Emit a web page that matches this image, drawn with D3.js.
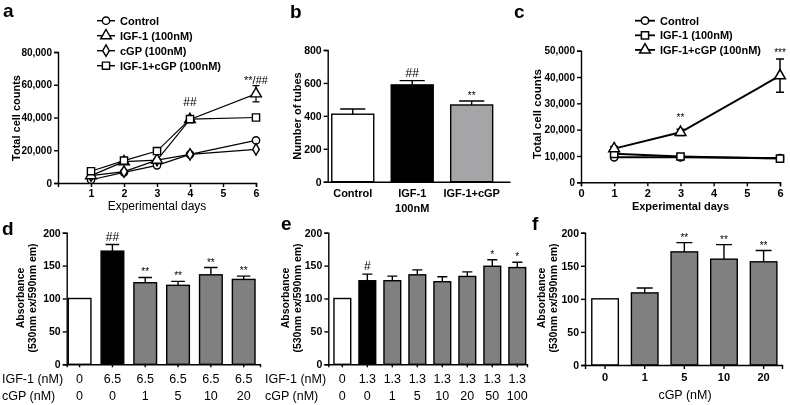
<!DOCTYPE html>
<html>
<head>
<meta charset="utf-8">
<script src="https://cdn.jsdelivr.net/npm/d3@7"></script>
<style>
  body { margin: 0; background: #fff; }
  svg { font-family: Arial, "Liberation Sans", sans-serif; will-change: transform; }
  text { fill: #000; }
</style>
</head>
<body>
<script>
// ---- panel a: cell counts over days ----
const daysA = [1, 2, 3, 4, 6];
const controlA = [2000, 6500, 10800, 17500, 26000];
const igfA = [4500, 13000, 14000, 38800, 54500];
const igfErrA = [500, 800, 900, 1000, 5000];
const cgpA = [4500, 7000, 14000, 17500, 20500];
const igfCgpA = [7200, 13700, 19500, 39000, 40000];
const yTicksA = [0, 20000, 40000, 60000, 80000];
const xTicksA = [1, 2, 3, 4, 5, 6];

// ---- panel b: tube formation ----
const catsB = ['Control', 'IGF-1', 'IGF-1+cGP'];
const valsB = [410, 588, 466];
const errsB = [32, 26, 24];
const starsB = ['', '##', '**'];
const yTicksB = [0, 200, 400, 600, 800];

// ---- panel c: cell counts over days ----
const daysC = [1, 3, 6];
const controlC = [9500, 9500, 9200];
const igfC = [10800, 9800, 9000];
const igfCgpC = [12800, 19000, 40500];
const igfCgpErrC = [800, 1200, 6300];
const yTicksC = [0, 10000, 20000, 30000, 40000, 50000];
const xTicksC = [0, 1, 2, 3, 4, 5, 6];

// ---- panel d ----
const igfD = ['0', '6.5', '6.5', '6.5', '6.5', '6.5'];
const cgpD = ['0', '0', '1', '5', '10', '20'];
const valsD = [100, 172, 124, 120, 136, 129];
const errsD = [0, 10, 8, 6, 11, 5];
const starsD = ['', '##', '**', '**', '**', '**'];

// ---- panel e ----
const igfE = ['0', '1.3', '1.3', '1.3', '1.3', '1.3', '1.3', '1.3'];
const cgpE = ['0', '0', '1', '5', '10', '20', '50', '100'];
const valsE = [100, 127, 127, 136, 125.5, 133.5, 149, 147];
const errsE = [0, 10, 7, 7.5, 7.5, 7, 10, 8];
const starsE = ['', '#', '', '', '', '', '*', '*'];

// ---- panel f ----
const cgpF = ['0', '1', '5', '10', '20'];
const valsF = [100, 109, 171, 160, 156];
const errsF = [0, 7.5, 14, 22, 17];
const starsF = ['', '', '**', '**', '**'];

const absTicks = [0, 50, 100, 150, 200];
const GRAY = '#808080';

const svg = d3.select('body').append('svg')
    .attr('width', 790)
    .attr('height', 405);

function styleAxis(g, size, weight) {
    g.selectAll('path, line').attr('stroke', '#000').attr('stroke-width', 1.4);
    g.selectAll('text').attr('font-size', size).attr('font-weight', weight).attr('fill', '#000')
        .attr('font-family', 'Arial, "Liberation Sans", sans-serif');
}

function panelLetter(letter, x, y) {
    svg.append('text').attr('x', x).attr('y', y)
        .attr('font-size', 19).attr('font-weight', 'bold').text(letter);
}

function yLabel(lines, x, cy, size) {
    const t = svg.append('text')
        .attr('transform', `translate(${x},${cy}) rotate(-90)`)
        .attr('text-anchor', 'middle')
        .attr('font-size', size).attr('font-weight', 'bold');
    lines.forEach((l, i) => {
        t.append('tspan').attr('x', 0).attr('dy', i === 0 ? 0 : size * 1.15).text(l);
    });
}

// ================= panel a =================
const xA = d3.scaleLinear().domain([0, 6]).range([58, 256]);
const yA = d3.scaleLinear().domain([0, 80000]).range([183, 52]);

svg.append('g').attr('transform', `translate(0,${yA(0)})`)
    .call(d3.axisBottom(xA).tickValues(xTicksA).tickFormat(d3.format('d')).tickSizeOuter(0).tickSize(4).tickPadding(3))
    .call(g => styleAxis(g, 10.5, 'bold'));
svg.append('g').attr('transform', `translate(${xA(0)},0)`)
    .call(d3.axisLeft(yA).tickValues(yTicksA).tickFormat(d3.format(',')).tickSizeOuter(0).tickSize(4).tickPadding(2))
    .call(g => styleAxis(g, 10, 'bold'));

const seriesA = [
    { vals: controlA, sym: d3.symbolCircle, size: 42 },
    { vals: cgpA, sym: d3.symbolDiamond, size: 38 },
    { vals: igfA, sym: d3.symbolTriangle, size: 50, err: igfErrA },
    { vals: igfCgpA, sym: d3.symbolSquare, size: 52 }
];
const lineA = d3.line().x(d => xA(d[0])).y(d => yA(d[1]));
seriesA.forEach(s => {
    const pts = daysA.map((d, i) => [d, s.vals[i]]);
    svg.append('path').datum(pts)
        .attr('fill', 'none').attr('stroke', '#000').attr('stroke-width', 1.2)
        .attr('d', lineA);
    if (s.err) {
        daysA.forEach((d, i) => {
            const x = xA(d), y0 = yA(s.vals[i] - s.err[i]), y1 = yA(s.vals[i] + s.err[i]);
            svg.append('path')
                .attr('d', `M${x - 3.5},${y0}H${x + 3.5}M${x},${y0}V${y1}M${x - 3.5},${y1}H${x + 3.5}`)
                .attr('stroke', '#000').attr('stroke-width', 1.2).attr('fill', 'none');
        });
    }
    svg.append('g').selectAll('path').data(pts).enter().append('path')
        .attr('transform', d => `translate(${xA(d[0])},${yA(d[1])})`)
        .attr('d', d3.symbol().type(s.sym).size(s.size))
        .attr('fill', '#fff').attr('stroke', '#000').attr('stroke-width', 1.4);
});

svg.append('text').attr('x', xA(4)).attr('y', 106).attr('text-anchor', 'middle')
    .attr('font-size', 12).text('##');
svg.append('text').attr('x', xA(6)).attr('y', 84).attr('text-anchor', 'middle')
    .attr('font-size', 11).text('**/##');

const legendA = [
    { label: 'Control', sym: d3.symbolCircle, size: 42 },
    { label: 'IGF-1 (100nM)', sym: d3.symbolTriangle, size: 50 },
    { label: 'cGP (100nM)', sym: d3.symbolDiamond, size: 38 },
    { label: 'IGF-1+cGP (100nM)', sym: d3.symbolSquare, size: 52 }
];
legendA.forEach((l, i) => {
    const y = 20.7 + i * 15;
    svg.append('line').attr('x1', 97).attr('x2', 115).attr('y1', y).attr('y2', y)
        .attr('stroke', '#000').attr('stroke-width', 1.4);
    svg.append('path').attr('transform', `translate(106,${y})`)
        .attr('d', d3.symbol().type(l.sym).size(l.size))
        .attr('fill', '#fff').attr('stroke', '#000').attr('stroke-width', 1.4);
    svg.append('text').attr('x', 120).attr('y', y + 4)
        .attr('font-size', 11).attr('font-weight', 'bold').text(l.label);
});

yLabel(['Total cell counts'], 20, 118, 11);
svg.append('text').attr('x', 157).attr('y', 210).attr('text-anchor', 'middle')
    .attr('font-size', 12).text('Experimental days');
panelLetter('a', 3, 17);

// ================= bar panels helper =================
function barPanel(o) {
    const x = d3.scaleBand().domain(d3.range(o.vals.length))
        .range(o.xRange).paddingInner(o.pi).paddingOuter(o.po).align(o.align);
    const y = d3.scaleLinear().domain(o.yDomain).range(o.yRange);

    // bars
    svg.append('g').selectAll('rect').data(o.vals).enter().append('rect')
        .attr('x', (d, i) => x(i))
        .attr('y', d => y(d))
        .attr('width', x.bandwidth())
        .attr('height', d => y(0) - y(d))
        .attr('fill', (d, i) => o.colors[i])
        .attr('stroke', '#000').attr('stroke-width', 1.4);

    // upper error bars
    o.vals.forEach((v, i) => {
        if (!o.errs[i]) return;
        const cx = x(i) + x.bandwidth() / 2, cap = x.bandwidth() * 0.3;
        svg.append('path')
            .attr('d', `M${cx},${y(v)}V${y(v + o.errs[i])}M${cx - cap},${y(v + o.errs[i])}H${cx + cap}`)
            .attr('stroke', '#000').attr('stroke-width', 1.4).attr('fill', 'none');
    });

    // significance marks
    o.stars.forEach((s, i) => {
        if (!s) return;
        const cx = x(i) + x.bandwidth() / 2;
        const big = s.indexOf('#') >= 0;
        svg.append('text').attr('x', cx).attr('y', y(o.vals[i] + o.errs[i]) - (big ? 4 : 2))
            .attr('text-anchor', 'middle')
            .attr('font-size', big ? 12 : 10).text(s);
    });

    // axes
    svg.append('g').attr('transform', `translate(${o.xRange[0]},0)`)
        .call(d3.axisLeft(y).tickValues(o.yTicks).tickSizeOuter(0).tickSize(4).tickPadding(2))
        .call(g => styleAxis(g, 10.5, 'bold'));
    svg.append('g').attr('transform', `translate(0,${y(0)})`)
        .call(d3.axisBottom(x).tickSizeOuter(0).tickSize(o.xTick).tickFormat(''))
        .call(g => styleAxis(g, 10.5, 'bold'));
    return x;
}

// ================= panel b =================
const xB = barPanel({
    vals: valsB, errs: errsB, stars: starsB,
    colors: ['#fff', '#000', '#a5a5a8'],
    xRange: [327.7, 510], pi: 0.294, po: 0.18, align: 0.19,
    yDomain: [0, 800], yRange: [181.7, 50], yTicks: yTicksB, xTick: 0
});
catsB.forEach((c, i) => {
    svg.append('text').attr('x', xB(i) + xB.bandwidth() / 2).attr('y', 197)
        .attr('text-anchor', 'middle').attr('font-size', 11).attr('font-weight', 'bold').text(c);
});
svg.append('text').attr('x', xB(1) + xB.bandwidth() / 2).attr('y', 212)
    .attr('text-anchor', 'middle').attr('font-size', 11).attr('font-weight', 'bold').text('100nM');
yLabel(['Number of tubes'], 301, 116, 11);
panelLetter('b', 290, 18);

// ================= panel c =================
const xC = d3.scaleLinear().domain([0, 6]).range([581, 780]);
const yC = d3.scaleLinear().domain([0, 50000]).range([182.3, 50.7]);

svg.append('g').attr('transform', `translate(0,${yC(0)})`)
    .call(d3.axisBottom(xC).tickValues(xTicksC).tickFormat(d3.format('d')).tickSizeOuter(0).tickSize(4).tickPadding(3))
    .call(g => styleAxis(g, 11, 'bold'));
svg.append('g').attr('transform', `translate(${xC(0)},0)`)
    .call(d3.axisLeft(yC).tickValues(yTicksC).tickFormat(d3.format(',')).tickSizeOuter(0).tickSize(4).tickPadding(2))
    .call(g => styleAxis(g, 10, 'bold'));

const seriesC = [
    { vals: controlC, sym: d3.symbolCircle, size: 42 },
    { vals: igfC, sym: d3.symbolSquare, size: 52 },
    { vals: igfCgpC, sym: d3.symbolTriangle, size: 50, err: igfCgpErrC }
];
const lineC = d3.line().x(d => xC(d[0])).y(d => yC(d[1]));
seriesC.forEach(s => {
    const pts = daysC.map((d, i) => [d, s.vals[i]]);
    svg.append('path').datum(pts)
        .attr('fill', 'none').attr('stroke', '#000').attr('stroke-width', 2)
        .attr('d', lineC);
    if (s.err) {
        daysC.forEach((d, i) => {
            const x = xC(d), y0 = yC(s.vals[i] - s.err[i]), y1 = yC(s.vals[i] + s.err[i]);
            svg.append('path')
                .attr('d', `M${x - 4},${y0}H${x + 4}M${x},${y0}V${y1}M${x - 4},${y1}H${x + 4}`)
                .attr('stroke', '#000').attr('stroke-width', 1.5).attr('fill', 'none');
        });
    }
    svg.append('g').selectAll('path').data(pts).enter().append('path')
        .attr('transform', d => `translate(${xC(d[0])},${yC(d[1])})`)
        .attr('d', d3.symbol().type(s.sym).size(s.size))
        .attr('fill', '#fff').attr('stroke', '#000').attr('stroke-width', 1.5);
});
svg.append('text').attr('x', xC(3)).attr('y', 121).attr('text-anchor', 'middle')
    .attr('font-size', 10).text('**');
svg.append('text').attr('x', xC(6)).attr('y', 56).attr('text-anchor', 'middle')
    .attr('font-size', 10).text('***');

const legendC = [
    { label: 'Control', sym: d3.symbolCircle, size: 42 },
    { label: 'IGF-1 (100nM)', sym: d3.symbolSquare, size: 52 },
    { label: 'IGF-1+cGP (100nM)', sym: d3.symbolTriangle, size: 50 }
];
legendC.forEach((l, i) => {
    const y = 20.7 + i * 14.6;
    svg.append('line').attr('x1', 635).attr('x2', 655).attr('y1', y).attr('y2', y)
        .attr('stroke', '#000').attr('stroke-width', 1.8);
    svg.append('path').attr('transform', `translate(645,${y})`)
        .attr('d', d3.symbol().type(l.sym).size(l.size))
        .attr('fill', '#fff').attr('stroke', '#000').attr('stroke-width', 1.5);
    svg.append('text').attr('x', 660).attr('y', y + 4)
        .attr('font-size', 11).attr('font-weight', 'bold').text(l.label);
});
yLabel(['Total cell counts'], 541, 114, 11.5);
svg.append('text').attr('x', xC(3)).attr('y', 210).attr('text-anchor', 'middle')
    .attr('font-size', 11).attr('font-weight', 'bold').text('Experimental days');
panelLetter('c', 514, 18);

// ================= panel d =================
const xD = barPanel({
    vals: valsD, errs: errsD, stars: starsD,
    colors: ['#fff', '#000', GRAY, GRAY, GRAY, GRAY],
    xRange: [66.7, 260], pi: 0.31, po: 0.1, align: 0.24,
    yDomain: [0, 200], yRange: [364.3, 232.7], yTicks: absTicks, xTick: 3
});
function rowLabels(x, arr, y) {
    arr.forEach((v, i) => {
        svg.append('text').attr('x', x(i) + x.bandwidth() / 2).attr('y', y)
            .attr('text-anchor', 'middle').attr('font-size', 12.5).text(v);
    });
}
rowLabels(xD, igfD, 383);
rowLabels(xD, cgpD, 400);
svg.append('text').attr('x', 2).attr('y', 383).attr('font-size', 12.5).text('IGF-1 (nM)');
svg.append('text').attr('x', 2).attr('y', 400).attr('font-size', 12.5).text('cGP (nM)');
yLabel(['Absorbance', '(530nm ex/590nm em)'], 24, 298, 10.5);
panelLetter('d', 2, 235);

// ================= panel e =================
const xE = barPanel({
    vals: valsE, errs: errsE, stars: starsE,
    colors: ['#fff', '#000', GRAY, GRAY, GRAY, GRAY, GRAY, GRAY],
    xRange: [328.3, 527], pi: 0.33, po: 0.14, align: 0.81,
    yDomain: [0, 200], yRange: [364.3, 232.7], yTicks: absTicks, xTick: 3
});
rowLabels(xE, igfE, 383);
rowLabels(xE, cgpE, 400);
svg.append('text').attr('x', 265).attr('y', 383).attr('font-size', 12.5).text('IGF-1 (nM)');
svg.append('text').attr('x', 265).attr('y', 400).attr('font-size', 12.5).text('cGP (nM)');
yLabel(['Absorbance', '(530nm ex/590nm em)'], 289, 298, 10.5);
panelLetter('e', 281, 230);

// ================= panel f =================
const xF = barPanel({
    vals: valsF, errs: errsF, stars: starsF,
    colors: ['#fff', GRAY, GRAY, GRAY, GRAY],
    xRange: [585, 782], pi: 0.33, po: 0.15, align: 0.57,
    yDomain: [0, 200], yRange: [365, 232.7], yTicks: absTicks, xTick: 4
});
cgpF.forEach((c, i) => {
    svg.append('text').attr('x', xF(i) + xF.bandwidth() / 2).attr('y', 381)
        .attr('text-anchor', 'middle').attr('font-size', 11).attr('font-weight', 'bold').text(c);
});
svg.append('text').attr('x', 685).attr('y', 399).attr('text-anchor', 'middle')
    .attr('font-size', 12.5).text('cGP (nM)');
yLabel(['Absorbance', '(530nm ex/590nm em)'], 545, 298, 10.5);
panelLetter('f', 532, 230);
</script>
</body>
</html>
